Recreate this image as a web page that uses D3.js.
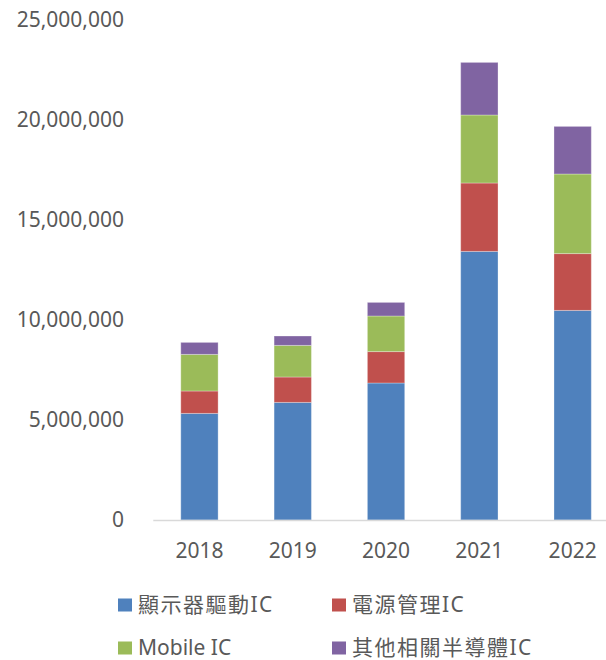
<!DOCTYPE html>
<html>
<head>
<meta charset="utf-8">
<script src="https://cdn.jsdelivr.net/npm/d3@7"></script>
<style>
  body { margin: 0; background: #fff; }
  text { font-family: "Noto Sans", "Noto Sans CJK TC", sans-serif; fill: #595959; }
</style>
</head>
<body>
<div id="chart-div"></div>
<script>
const years = ['2018', '2019', '2020', '2021', '2022'];
const seriesNames = ['顯示器驅動IC', '電源管理IC', 'Mobile IC', '其他相關半導體IC'];
const driverIC = [5330000, 5880000, 6850000, 13430000, 10480000];
const powerIC = [1120000, 1270000, 1570000, 3420000, 2840000];
const mobileIC = [1830000, 1580000, 1780000, 3400000, 3980000];
const otherIC = [600000, 470000, 680000, 2630000, 2380000];
const yTicks = [0, 5000000, 10000000, 15000000, 20000000, 25000000];
const colors = ['#4F81BD', '#C0504D', '#9BBB59', '#8064A2'];

const width = 606;
const height = 660;

const rows = years.map((y, i) => ({
    year: y,
    s0: driverIC[i], s1: powerIC[i], s2: mobileIC[i], s3: otherIC[i]
}));

const stack = d3.stack().keys(['s0', 's1', 's2', 's3']);
const layers = stack(rows);

const svg = d3.select("#chart-div")
    .append("svg")
    .attr("width", width)
    .attr("height", height);

const xScale = d3.scaleBand()
    .domain(years)
    .range([152.8, 619.3])
    .paddingInner(0.6)
    .paddingOuter(0.3);

const yScale = d3.scaleLinear()
    .domain([0, 25000000])
    .range([520, 20]);

// y labels
const yAxis = svg.append("g")
    .attr("transform", "translate(153,0)")
    .call(d3.axisLeft(yScale)
        .tickValues(yTicks)
        .tickFormat(d3.format(","))
        .tickSize(0)
        .tickPadding(29));
yAxis.select(".domain").remove();
yAxis.selectAll("text")
    .attr("font-size", 21)
    .attr("fill", "#595959");

// bars
svg.selectAll("g.layer").data(layers).enter().append("g")
    .attr("class", "layer")
    .style("fill", (d, i) => colors[i])
    .selectAll("rect").data(d => d).enter().append("rect")
    .attr("x", d => xScale(d.data.year))
    .attr("width", xScale.bandwidth())
    .attr("y", d => yScale(d[1]))
    .attr("height", d => yScale(d[0]) - yScale(d[1]))
    .style("stroke", "rgba(255,255,255,0.3)")
    .style("stroke-width", 1);

// x axis
const xAxis = svg.append("g")
    .attr("transform", "translate(0,520)")
    .call(d3.axisBottom(xScale)
        .tickSize(0)
        .tickPadding(23));
xAxis.select(".domain")
    .attr("stroke", "#D9D9D9")
    .attr("stroke-width", 1.5);
xAxis.selectAll("text")
    .attr("font-size", 21)
    .attr("fill", "#595959");

// legend
const legendX = [118, 332, 118, 332];
const legendY = [605, 605, 648, 648];

const legend = svg.selectAll("g.legend").data(seriesNames).enter().append("g")
    .attr("class", "legend")
    .attr("transform", (d, i) => "translate(" + legendX[i] + "," + legendY[i] + ")");

legend.append("rect")
    .attr("x", 0)
    .attr("y", -6.5)
    .attr("width", 14)
    .attr("height", 13)
    .style("fill", (d, i) => colors[i]);

legend.append("text")
    .attr("x", 20)
    .attr("y", 0)
    .attr("dy", "0.35em")
    .attr("font-size", 21)
    .attr("letter-spacing", d => /[\u4e00-\u9fff]/.test(d) ? 1.5 : 0)
    .text(d => d);
</script>
</body>
</html>
